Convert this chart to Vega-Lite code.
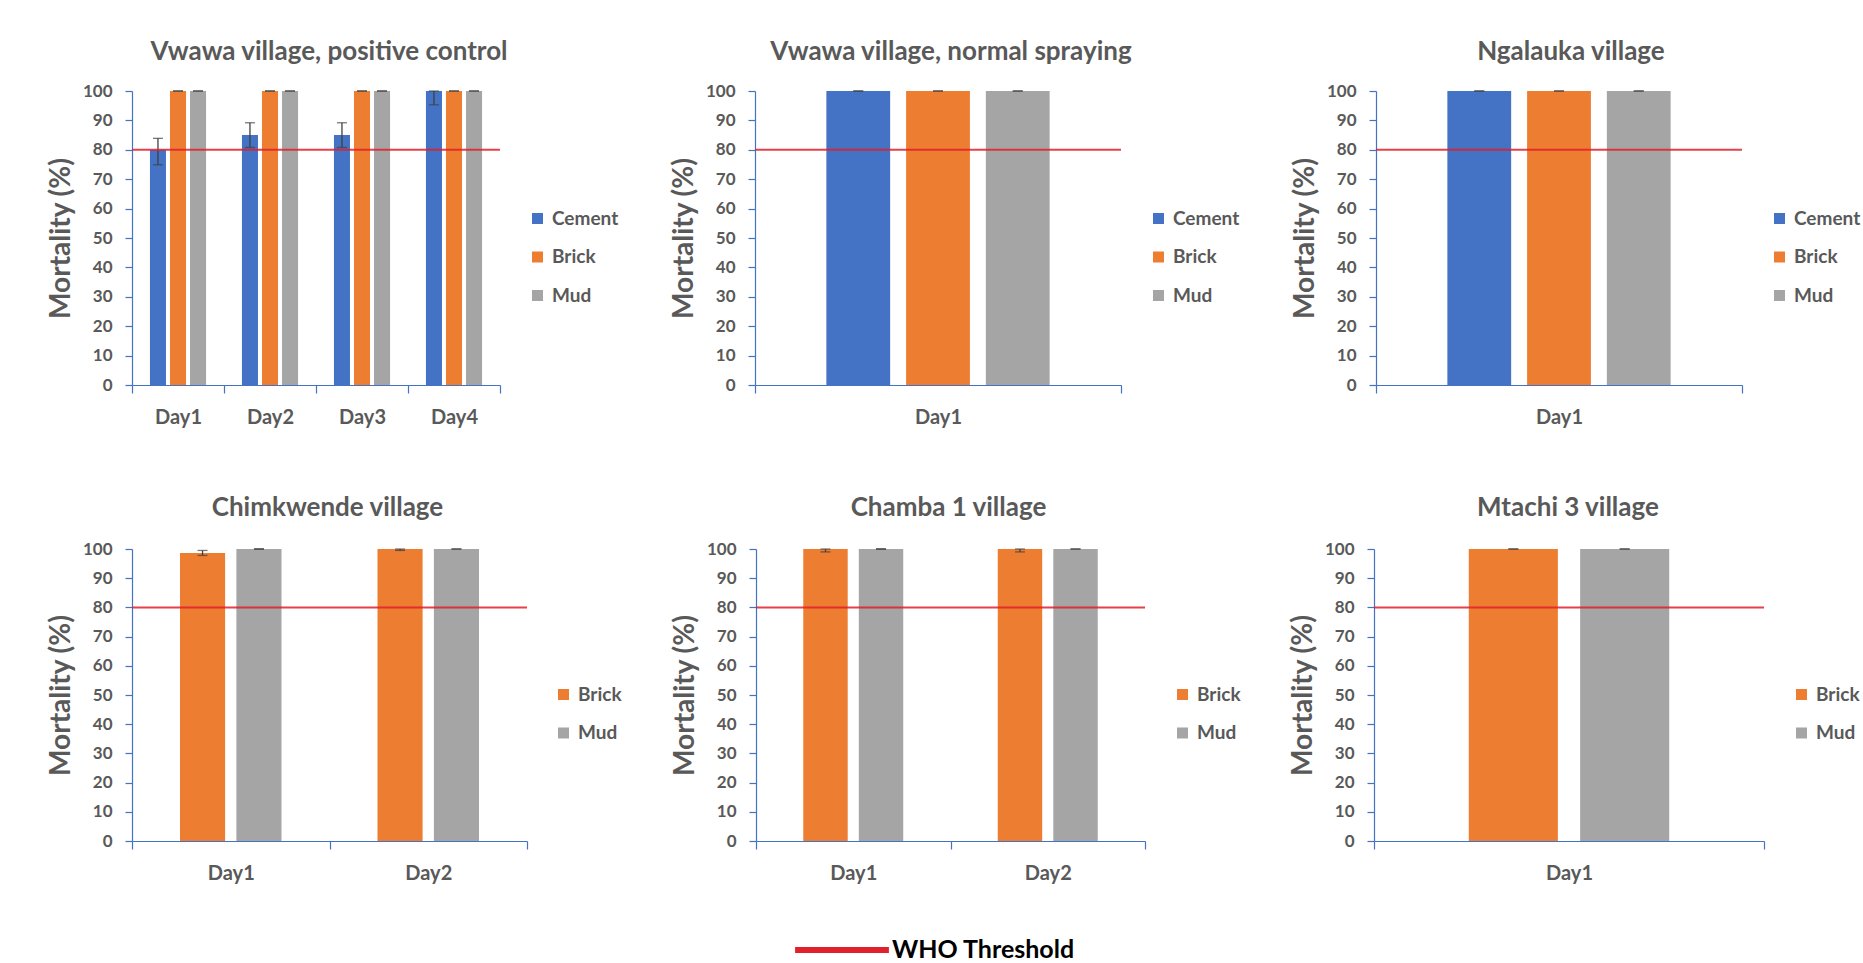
{
  "$schema": "https://vega.github.io/schema/vega-lite/v6.json",
  "padding": {"left": 47, "top": 39, "right": 10, "bottom": 5},
  "background": "white",
  "datasets": {
    "mortality": [
      {"village": "Vwawa (positive control)", "day": "Day1", "material": "Cement", "mortality": 80, "lo": 74.9, "hi": 83.9},
      {"village": "Vwawa (positive control)", "day": "Day1", "material": "Brick", "mortality": 100, "lo": 100, "hi": 100},
      {"village": "Vwawa (positive control)", "day": "Day1", "material": "Mud", "mortality": 100, "lo": 100, "hi": 100},
      {"village": "Vwawa (positive control)", "day": "Day2", "material": "Cement", "mortality": 85, "lo": 80.8, "hi": 89.2},
      {"village": "Vwawa (positive control)", "day": "Day2", "material": "Brick", "mortality": 100, "lo": 100, "hi": 100},
      {"village": "Vwawa (positive control)", "day": "Day2", "material": "Mud", "mortality": 100, "lo": 100, "hi": 100},
      {"village": "Vwawa (positive control)", "day": "Day3", "material": "Cement", "mortality": 85, "lo": 80.8, "hi": 89.2},
      {"village": "Vwawa (positive control)", "day": "Day3", "material": "Brick", "mortality": 100, "lo": 100, "hi": 100},
      {"village": "Vwawa (positive control)", "day": "Day3", "material": "Mud", "mortality": 100, "lo": 100, "hi": 100},
      {"village": "Vwawa (positive control)", "day": "Day4", "material": "Cement", "mortality": 100, "lo": 95.3, "hi": 100},
      {"village": "Vwawa (positive control)", "day": "Day4", "material": "Brick", "mortality": 100, "lo": 100, "hi": 100},
      {"village": "Vwawa (positive control)", "day": "Day4", "material": "Mud", "mortality": 100, "lo": 100, "hi": 100},
      {"village": "Vwawa (normal spraying)", "day": "Day1", "material": "Cement", "mortality": 100, "lo": 100, "hi": 100},
      {"village": "Vwawa (normal spraying)", "day": "Day1", "material": "Brick", "mortality": 100, "lo": 100, "hi": 100},
      {"village": "Vwawa (normal spraying)", "day": "Day1", "material": "Mud", "mortality": 100, "lo": 100, "hi": 100},
      {"village": "Ngalauka", "day": "Day1", "material": "Cement", "mortality": 100, "lo": 100, "hi": 100},
      {"village": "Ngalauka", "day": "Day1", "material": "Brick", "mortality": 100, "lo": 100, "hi": 100},
      {"village": "Ngalauka", "day": "Day1", "material": "Mud", "mortality": 100, "lo": 100, "hi": 100},
      {"village": "Chimkwende", "day": "Day1", "material": "Brick", "mortality": 98.6, "lo": 97.8, "hi": 99.5},
      {"village": "Chimkwende", "day": "Day1", "material": "Mud", "mortality": 100, "lo": 100, "hi": 100},
      {"village": "Chimkwende", "day": "Day2", "material": "Brick", "mortality": 100, "lo": 99.5, "hi": 100},
      {"village": "Chimkwende", "day": "Day2", "material": "Mud", "mortality": 100, "lo": 100, "hi": 100},
      {"village": "Chamba 1", "day": "Day1", "material": "Brick", "mortality": 100, "lo": 99, "hi": 100},
      {"village": "Chamba 1", "day": "Day1", "material": "Mud", "mortality": 100, "lo": 100, "hi": 100},
      {"village": "Chamba 1", "day": "Day2", "material": "Brick", "mortality": 100, "lo": 99, "hi": 100},
      {"village": "Chamba 1", "day": "Day2", "material": "Mud", "mortality": 100, "lo": 100, "hi": 100},
      {"village": "Mtachi 3", "day": "Day1", "material": "Brick", "mortality": 100, "lo": 100, "hi": 100},
      {"village": "Mtachi 3", "day": "Day1", "material": "Mud", "mortality": 100, "lo": 100, "hi": 100}
    ],
    "threshold": [{"label": "WHO Threshold", "value": 80}]
  },
  "spacing": 68,
  "resolve": {"scale": {"color": "independent", "xOffset": "independent"}},
  "vconcat": [
    {
      "hconcat": [
        {
          "width": 368, "height": 294,
          "title": {"text": "Vwawa village, positive control", "dx": 13, "offset": 17},
          "layer": [
            {
              "data": {"name": "mortality"},
              "transform": [{"filter": "datum.village === 'Vwawa (positive control)'"}],
              "encoding": {
                "x": {"field": "day", "type": "nominal", "scale": {"paddingInner": 0, "paddingOuter": 0}},
                "xOffset": {"field": "material", "type": "nominal", "scale": {"domain": ["Cement", "Brick", "Mud"], "paddingInner": 0.2, "paddingOuter": 0.895}}
              },
              "layer": [
                {"mark": {"type": "bar"}, "encoding": {
                  "y": {"field": "mortality", "type": "quantitative", "title": "Mortality (%)", "scale": {"domain": [0, 100], "nice": false}},
                  "color": {"field": "material", "type": "nominal", "scale": {"domain": ["Cement", "Brick", "Mud"], "range": ["#4472C4", "#ED7D31", "#A5A5A5"]}, "legend": {"orient": "none", "legendX": 396, "legendY": 118, "title": null}}}},
                {"mark": {"type": "rule", "color": "#404040", "strokeWidth": 1.3}, "encoding": {"y": {"field": "lo", "type": "quantitative", "title": "Mortality (%)"}, "y2": {"field": "hi"}}},
                {"mark": {"type": "tick", "color": "#404040", "thickness": 1.3, "size": 10}, "encoding": {"y": {"field": "lo", "type": "quantitative", "title": "Mortality (%)"}}},
                {"mark": {"type": "tick", "color": "#404040", "thickness": 1.3, "size": 10}, "encoding": {"y": {"field": "hi", "type": "quantitative", "title": "Mortality (%)"}}}
              ]
            },
            {
              "data": {"name": "threshold"},
              "mark": {"type": "rule", "strokeWidth": 2, "opacity": 0.85},
              "encoding": {
                "y": {"field": "value", "type": "quantitative", "title": "Mortality (%)"},
                "stroke": {"field": "label", "type": "nominal", "scale": {"domain": ["WHO Threshold"], "range": ["#E0202A"]}, "legend": {"orient": "none", "legendX": 660, "legendY": 809, "title": null, "symbolType": "stroke", "symbolSize": 8800, "symbolStrokeWidth": 6, "symbolOpacity": 1, "labelFontSize": 25, "labelColor": "#000000", "labelLimit": 400, "labelOffset": 0}}
              }
            }
          ]
        },
        {
          "width": 366, "height": 294,
          "title": {"text": "Vwawa village, normal spraying", "dx": 13, "offset": 17},
          "layer": [
            {
              "data": {"name": "mortality"},
              "transform": [{"filter": "datum.village === 'Vwawa (normal spraying)'"}],
              "encoding": {
                "x": {"field": "day", "type": "nominal", "scale": {"paddingInner": 0, "paddingOuter": 0}},
                "xOffset": {"field": "material", "type": "nominal", "scale": {"domain": ["Cement", "Brick", "Mud"], "paddingInner": 0.2, "paddingOuter": 0.895}}
              },
              "layer": [
                {"mark": {"type": "bar"}, "encoding": {
                  "y": {"field": "mortality", "type": "quantitative", "title": "Mortality (%)", "scale": {"domain": [0, 100], "nice": false}},
                  "color": {"field": "material", "type": "nominal", "scale": {"domain": ["Cement", "Brick", "Mud"], "range": ["#4472C4", "#ED7D31", "#A5A5A5"]}, "legend": {"orient": "none", "legendX": 394, "legendY": 118, "title": null}}}},
                {"mark": {"type": "rule", "color": "#404040", "strokeWidth": 1.3}, "encoding": {"y": {"field": "lo", "type": "quantitative", "title": "Mortality (%)"}, "y2": {"field": "hi"}}},
                {"mark": {"type": "tick", "color": "#404040", "thickness": 1.3, "size": 10}, "encoding": {"y": {"field": "lo", "type": "quantitative", "title": "Mortality (%)"}}},
                {"mark": {"type": "tick", "color": "#404040", "thickness": 1.3, "size": 10}, "encoding": {"y": {"field": "hi", "type": "quantitative", "title": "Mortality (%)"}}}
              ]
            },
            {
              "data": {"name": "threshold"},
              "mark": {"type": "rule", "strokeWidth": 2, "opacity": 0.85},
              "encoding": {
                "y": {"field": "value", "type": "quantitative", "title": "Mortality (%)"},
                "stroke": {"field": "label", "type": "nominal", "scale": {"domain": ["WHO Threshold"], "range": ["#E0202A"]}, "legend": {"orient": "none", "legendX": 660, "legendY": 809, "title": null, "symbolType": "stroke", "symbolSize": 8800, "symbolStrokeWidth": 6, "symbolOpacity": 1, "labelFontSize": 25, "labelColor": "#000000", "labelLimit": 400, "labelOffset": 0}}
              }
            }
          ]
        },
        {
          "width": 366, "height": 294,
          "title": {"text": "Ngalauka village", "dx": 12, "offset": 17},
          "layer": [
            {
              "data": {"name": "mortality"},
              "transform": [{"filter": "datum.village === 'Ngalauka'"}],
              "encoding": {
                "x": {"field": "day", "type": "nominal", "scale": {"paddingInner": 0, "paddingOuter": 0}},
                "xOffset": {"field": "material", "type": "nominal", "scale": {"domain": ["Cement", "Brick", "Mud"], "paddingInner": 0.2, "paddingOuter": 0.895}}
              },
              "layer": [
                {"mark": {"type": "bar"}, "encoding": {
                  "y": {"field": "mortality", "type": "quantitative", "title": "Mortality (%)", "scale": {"domain": [0, 100], "nice": false}},
                  "color": {"field": "material", "type": "nominal", "scale": {"domain": ["Cement", "Brick", "Mud"], "range": ["#4472C4", "#ED7D31", "#A5A5A5"]}, "legend": {"orient": "none", "legendX": 394, "legendY": 118, "title": null}}}},
                {"mark": {"type": "rule", "color": "#404040", "strokeWidth": 1.3}, "encoding": {"y": {"field": "lo", "type": "quantitative", "title": "Mortality (%)"}, "y2": {"field": "hi"}}},
                {"mark": {"type": "tick", "color": "#404040", "thickness": 1.3, "size": 10}, "encoding": {"y": {"field": "lo", "type": "quantitative", "title": "Mortality (%)"}}},
                {"mark": {"type": "tick", "color": "#404040", "thickness": 1.3, "size": 10}, "encoding": {"y": {"field": "hi", "type": "quantitative", "title": "Mortality (%)"}}}
              ]
            },
            {
              "data": {"name": "threshold"},
              "mark": {"type": "rule", "strokeWidth": 2, "opacity": 0.85},
              "encoding": {
                "y": {"field": "value", "type": "quantitative", "title": "Mortality (%)"},
                "stroke": {"field": "label", "type": "nominal", "scale": {"domain": ["WHO Threshold"], "range": ["#E0202A"]}, "legend": {"orient": "none", "legendX": 660, "legendY": 809, "title": null, "symbolType": "stroke", "symbolSize": 8800, "symbolStrokeWidth": 6, "symbolOpacity": 1, "labelFontSize": 25, "labelColor": "#000000", "labelLimit": 400, "labelOffset": 0}}
              }
            }
          ]
        }
      ],
      "spacing": 255,
      "bounds": "flush",
      "resolve": {"scale": {"color": "independent", "xOffset": "independent"}}
    },
    {
      "hconcat": [
        {
          "width": 395, "height": 292,
          "title": {"text": "Chimkwende village", "dx": -2, "offset": 19},
          "layer": [
            {
              "data": {"name": "mortality"},
              "transform": [{"filter": "datum.village === 'Chimkwende'"}],
              "encoding": {
                "x": {"field": "day", "type": "nominal", "scale": {"paddingInner": 0, "paddingOuter": 0}},
                "xOffset": {"field": "material", "type": "nominal", "scale": {"domain": ["Brick", "Mud"], "paddingInner": 0.2, "paddingOuter": 0.851}}
              },
              "layer": [
                {"mark": {"type": "bar"}, "encoding": {
                  "y": {"field": "mortality", "type": "quantitative", "title": "Mortality (%)", "scale": {"domain": [0, 100], "nice": false}},
                  "color": {"field": "material", "type": "nominal", "scale": {"domain": ["Brick", "Mud"], "range": ["#ED7D31", "#A5A5A5"]}, "legend": {"orient": "none", "legendX": 422, "legendY": 136, "title": null}}}},
                {"mark": {"type": "rule", "color": "#404040", "strokeWidth": 1.3}, "encoding": {"y": {"field": "lo", "type": "quantitative", "title": "Mortality (%)"}, "y2": {"field": "hi"}}},
                {"mark": {"type": "tick", "color": "#404040", "thickness": 1.3, "size": 10}, "encoding": {"y": {"field": "lo", "type": "quantitative", "title": "Mortality (%)"}}},
                {"mark": {"type": "tick", "color": "#404040", "thickness": 1.3, "size": 10}, "encoding": {"y": {"field": "hi", "type": "quantitative", "title": "Mortality (%)"}}}
              ]
            },
            {
              "data": {"name": "threshold"},
              "mark": {"type": "rule", "strokeWidth": 2, "opacity": 0.85},
              "encoding": {
                "y": {"field": "value", "type": "quantitative", "title": "Mortality (%)"},
                "stroke": {"field": "label", "type": "nominal", "scale": {"domain": ["WHO Threshold"], "range": ["#E0202A"]}, "legend": {"orient": "none", "legendX": 660, "legendY": 809, "title": null, "symbolType": "stroke", "symbolSize": 8800, "symbolStrokeWidth": 6, "symbolOpacity": 1, "labelFontSize": 25, "labelColor": "#000000", "labelLimit": 400, "labelOffset": 0}}
              }
            }
          ]
        },
        {
          "width": 389, "height": 292,
          "title": {"text": "Chamba 1 village", "dx": -2, "offset": 19},
          "layer": [
            {
              "data": {"name": "mortality"},
              "transform": [{"filter": "datum.village === 'Chamba 1'"}],
              "encoding": {
                "x": {"field": "day", "type": "nominal", "scale": {"paddingInner": 0, "paddingOuter": 0}},
                "xOffset": {"field": "material", "type": "nominal", "scale": {"domain": ["Brick", "Mud"], "paddingInner": 0.2, "paddingOuter": 0.851}}
              },
              "layer": [
                {"mark": {"type": "bar"}, "encoding": {
                  "y": {"field": "mortality", "type": "quantitative", "title": "Mortality (%)", "scale": {"domain": [0, 100], "nice": false}},
                  "color": {"field": "material", "type": "nominal", "scale": {"domain": ["Brick", "Mud"], "range": ["#ED7D31", "#A5A5A5"]}, "legend": {"orient": "none", "legendX": 417, "legendY": 136, "title": null}}}},
                {"mark": {"type": "rule", "color": "#404040", "strokeWidth": 1.3}, "encoding": {"y": {"field": "lo", "type": "quantitative", "title": "Mortality (%)"}, "y2": {"field": "hi"}}},
                {"mark": {"type": "tick", "color": "#404040", "thickness": 1.3, "size": 10}, "encoding": {"y": {"field": "lo", "type": "quantitative", "title": "Mortality (%)"}}},
                {"mark": {"type": "tick", "color": "#404040", "thickness": 1.3, "size": 10}, "encoding": {"y": {"field": "hi", "type": "quantitative", "title": "Mortality (%)"}}}
              ]
            },
            {
              "data": {"name": "threshold"},
              "mark": {"type": "rule", "strokeWidth": 2, "opacity": 0.85},
              "encoding": {
                "y": {"field": "value", "type": "quantitative", "title": "Mortality (%)"},
                "stroke": {"field": "label", "type": "nominal", "scale": {"domain": ["WHO Threshold"], "range": ["#E0202A"]}, "legend": {"orient": "none", "legendX": 660, "legendY": 809, "title": null, "symbolType": "stroke", "symbolSize": 8800, "symbolStrokeWidth": 6, "symbolOpacity": 1, "labelFontSize": 25, "labelColor": "#000000", "labelLimit": 400, "labelOffset": 0}}
              }
            }
          ]
        },
        {
          "width": 390, "height": 292,
          "title": {"text": "Mtachi 3 village", "dx": -1, "offset": 19},
          "layer": [
            {
              "data": {"name": "mortality"},
              "transform": [{"filter": "datum.village === 'Mtachi 3'"}],
              "encoding": {
                "x": {"field": "day", "type": "nominal", "scale": {"paddingInner": 0, "paddingOuter": 0}},
                "xOffset": {"field": "material", "type": "nominal", "scale": {"domain": ["Brick", "Mud"], "paddingInner": 0.2, "paddingOuter": 0.851}}
              },
              "layer": [
                {"mark": {"type": "bar"}, "encoding": {
                  "y": {"field": "mortality", "type": "quantitative", "title": "Mortality (%)", "scale": {"domain": [0, 100], "nice": false}},
                  "color": {"field": "material", "type": "nominal", "scale": {"domain": ["Brick", "Mud"], "range": ["#ED7D31", "#A5A5A5"]}, "legend": {"orient": "none", "legendX": 418, "legendY": 136, "title": null}}}},
                {"mark": {"type": "rule", "color": "#404040", "strokeWidth": 1.3}, "encoding": {"y": {"field": "lo", "type": "quantitative", "title": "Mortality (%)"}, "y2": {"field": "hi"}}},
                {"mark": {"type": "tick", "color": "#404040", "thickness": 1.3, "size": 10}, "encoding": {"y": {"field": "lo", "type": "quantitative", "title": "Mortality (%)"}}},
                {"mark": {"type": "tick", "color": "#404040", "thickness": 1.3, "size": 10}, "encoding": {"y": {"field": "hi", "type": "quantitative", "title": "Mortality (%)"}}}
              ]
            },
            {
              "data": {"name": "threshold"},
              "mark": {"type": "rule", "strokeWidth": 2, "opacity": 0.85},
              "encoding": {
                "y": {"field": "value", "type": "quantitative", "title": "Mortality (%)"},
                "stroke": {"field": "label", "type": "nominal", "scale": {"domain": ["WHO Threshold"], "range": ["#E0202A"]}, "legend": {"orient": "none", "legendX": 660, "legendY": 809, "title": null, "symbolType": "stroke", "symbolSize": 8800, "symbolStrokeWidth": 6, "symbolOpacity": 1, "labelFontSize": 25, "labelColor": "#000000", "labelLimit": 400, "labelOffset": 0}}
              }
            }
          ]
        }
      ],
      "spacing": 229,
      "bounds": "flush",
      "resolve": {"scale": {"color": "independent", "xOffset": "independent"}}
    }
  ],
  "config": {
    "view": {"stroke": null},
    "font": "Lato",
    "title": {"font": "Lato", "fontSize": 26, "fontWeight": "bold", "color": "#595959", "anchor": "middle", "frame": "group"},
    "axis": {"labelFont": "Lato", "labelFontWeight": "bold", "labelColor": "#595959", "domainColor": "#4472C4", "tickColor": "#4472C4", "grid": false, "titleFont": "Lato", "domainWidth": 1.2, "tickWidth": 1.2},
    "axisX": {"title": null, "labelFontSize": 20, "labelPadding": 14, "tickSize": 8, "tickBand": "extent", "labelAngle": 0},
    "axisY": {"labelFontSize": 17, "tickSize": 7, "labelPadding": 13, "titleFontSize": 28, "titlePadding": 7, "titleFontWeight": "bold", "titleColor": "#595959", "tickCount": 10},
    "legend": {"labelFont": "Lato", "labelFontSize": 19, "labelFontWeight": "bold", "labelColor": "#595959", "symbolType": "square", "symbolSize": 121, "rowPadding": 18.5, "labelOffset": 5, "padding": 0}
  }
}
